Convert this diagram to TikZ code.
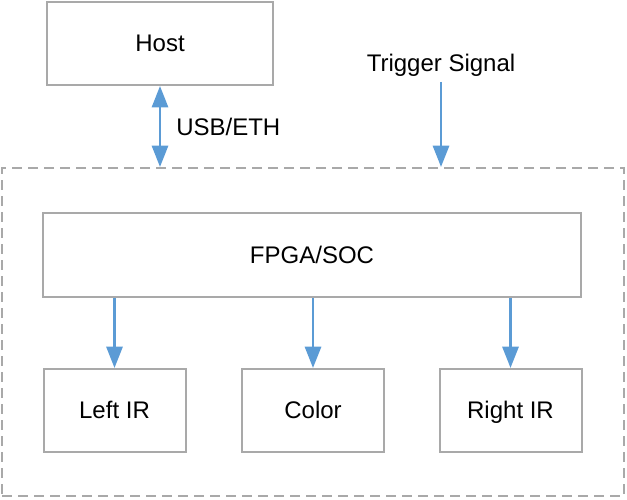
\documentclass[tikz,border=0pt]{standalone}
\usepackage{fontspec}
\setmainfont{Liberation Sans}
\usetikzlibrary{arrows.meta}
\definecolor{boxgray}{HTML}{A9A9A9}
\definecolor{arrblue}{HTML}{5B9BD5}
\tikzset{
	blk/.style={draw=boxgray,line width=1.5pt,minimum height=62.25pt,text height=1.2em,text depth=0pt,font=\fontsize{18}{21}\selectfont},
	arr/.style={draw=arrblue,line width=2.2pt,-{Triangle[width=12pt,length=16pt]}},
	darr/.style={draw=arrblue,line width=2.2pt,{Triangle[width=12pt,length=16pt]}-{Triangle[width=12pt,length=16pt]}},
	lbl/.style={inner sep=0pt,text height=1.2em,text depth=0pt,font=\fontsize{18}{21}\selectfont}
}
\begin{document}
\begin{tikzpicture}[x=0.75pt,y=-0.75pt]
	\useasboundingbox (0,0) rectangle (627,499);
	% outer dashed frame
	\node[draw=boxgray,line width=1.5pt,dash pattern=on 7.5pt off 4.5pt,minimum width=466.5pt,minimum height=246pt] (sys) at (313,332) {};
	\node[blk,minimum width=169.5pt] (host) at (160,43.5) {Host};
	\node[blk,minimum width=403.5pt,minimum height=63pt] (fpga) at (312,255) {FPGA/SOC};
	\foreach \x/\name/\txt in {114.5/left/Left IR,313/color/Color,510.5/right/Right IR}{
		\node[blk,minimum width=106.5pt] (\name) at (\x,410.5) {\txt};
	}
	\node[lbl] (trig) at (441,64) {Trigger Signal};
	\node[lbl,anchor=west] (usb) at (176,128) {USB/ETH};
	\coordinate (trigtop) at (441,82);
	% connectors
	\draw[darr] (host.south) -- (host.south |- sys.north);
	\draw[arr] (trigtop) -- (trigtop |- sys.north);
	\foreach \name in {left,color,right}{
		\draw[arr] (fpga.south -| \name.north) -- (\name.north);
	}
\end{tikzpicture}
\end{document}
